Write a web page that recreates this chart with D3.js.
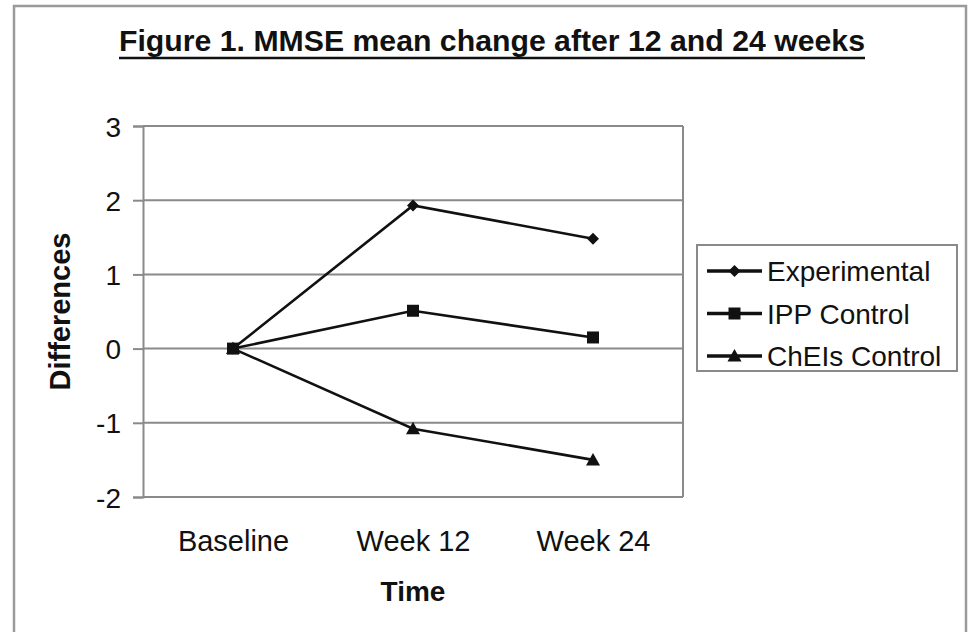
<!DOCTYPE html>
<html>
<head>
<meta charset="utf-8">
<script src="https://cdn.jsdelivr.net/npm/d3@7"></script>
<style>
  html, body { margin: 0; padding: 0; background: #fff; }
  svg { display: block; }
  text { font-family: "Liberation Sans", Arial, sans-serif; fill: #111; }
</style>
</head>
<body>
<svg id="chart" width="970" height="632"></svg>
<script>
// MMSE mean change from baseline, per group
const categories = ["Baseline", "Week 12", "Week 24"];
const experimental = [0, 1.93, 1.48];
const ippControl = [0, 0.51, 0.15];
const cheisControl = [0, -1.08, -1.5];
const seriesNames = ["Experimental", "IPP Control", "ChEIs Control"];
const yTicks = [-2, -1, 0, 1, 2, 3];

const series = [
  { name: seriesNames[0], values: experimental, marker: "diamond" },
  { name: seriesNames[1], values: ippControl, marker: "square" },
  { name: seriesNames[2], values: cheisControl, marker: "triangle" }
];

const svg = d3.select("#chart");
const plot = { left: 143, right: 683, top: 126, bottom: 497 };
const gridColor = "#8a8a8a";

// outer frame
svg.append("rect")
  .attr("x", 14).attr("y", 6)
  .attr("width", 952).attr("height", 650)
  .attr("fill", "none").attr("stroke", "#9a9a9a").attr("stroke-width", 2.5);

// title
svg.append("text")
  .attr("x", 492).attr("y", 51)
  .attr("text-anchor", "middle")
  .attr("font-size", 29).attr("font-weight", "bold")
  .attr("textLength", 746).attr("lengthAdjust", "spacingAndGlyphs")
  .text("Figure 1. MMSE mean change after 12 and 24 weeks");
svg.append("line")
  .attr("x1", 119).attr("x2", 865)
  .attr("y1", 58).attr("y2", 58)
  .attr("stroke", "#111").attr("stroke-width", 2.5);

const x = d3.scalePoint().domain(categories).range([plot.left, plot.right]).padding(0.5);
const y = d3.scaleLinear().domain([-2, 3]).range([plot.bottom, plot.top]);

// horizontal gridlines
svg.append("g").selectAll("line").data(yTicks).join("line")
  .attr("x1", plot.left).attr("x2", plot.right)
  .attr("y1", d => y(d)).attr("y2", d => y(d))
  .attr("stroke", gridColor).attr("stroke-width", 2);

// right border of the plot area
svg.append("line")
  .attr("x1", plot.right).attr("x2", plot.right)
  .attr("y1", plot.top).attr("y2", plot.bottom)
  .attr("stroke", gridColor).attr("stroke-width", 2);

// y axis (plain hyphen for negatives)
const yAxis = svg.append("g")
  .attr("transform", `translate(${plot.left},0)`)
  .call(d3.axisLeft(y).tickValues(yTicks).tickSize(10).tickPadding(12).tickFormat(d => String(d)));
yAxis.select(".domain").attr("stroke", gridColor).attr("stroke-width", 2);
yAxis.selectAll(".tick line").attr("stroke", gridColor).attr("stroke-width", 2);
yAxis.selectAll(".tick text")
  .attr("font-size", 28).attr("font-family", "Liberation Sans, Arial, sans-serif")
  .attr("fill", "#111").attr("dy", "0.36em");

// x axis labels
const xAxis = svg.append("g")
  .attr("transform", `translate(0,${plot.bottom})`)
  .call(d3.axisBottom(x).tickSize(0).tickPadding(54));
xAxis.select(".domain").remove();
xAxis.selectAll(".tick text")
  .attr("font-size", 29).attr("font-family", "Liberation Sans, Arial, sans-serif")
  .attr("fill", "#111").attr("dy", "0");

// axis titles
svg.append("text")
  .attr("x", 413).attr("y", 601)
  .attr("text-anchor", "middle")
  .attr("font-size", 28).attr("font-weight", "bold")
  .text("Time");
svg.append("text")
  .attr("transform", `translate(70,${(plot.top + plot.bottom) / 2}) rotate(-90)`)
  .attr("text-anchor", "middle")
  .attr("font-size", 29).attr("font-weight", "bold")
  .text("Differences");

// marker shapes
function markerPath(type) {
  if (type === "diamond") return "M0,-6L6,0L0,6L-6,0Z";
  if (type === "square") return "M-6,-6H6V6H-6Z";
  return "M0,-7L7,5.5H-7Z";
}

const line = d3.line()
  .x((d, i) => x(categories[i]))
  .y(d => y(d));

series.forEach(s => {
  svg.append("path")
    .attr("d", line(s.values))
    .attr("fill", "none").attr("stroke", "#111").attr("stroke-width", 2.6);
});
// markers drawn after all lines so the baseline square stays on top
[series[0], series[2], series[1]].forEach(s => {
  svg.append("g").selectAll("path").data(s.values).join("path")
    .attr("transform", (d, i) => `translate(${x(categories[i])},${y(d)})`)
    .attr("d", markerPath(s.marker))
    .attr("fill", "#111");
});

// legend
const legend = svg.append("g");
legend.append("rect")
  .attr("x", 697).attr("y", 245).attr("width", 260).attr("height", 126)
  .attr("fill", "#fff").attr("stroke", "#8a8a8a").attr("stroke-width", 2);
series.forEach((s, i) => {
  const cy = 271 + i * 42.5;
  legend.append("line")
    .attr("x1", 707).attr("x2", 762).attr("y1", cy).attr("y2", cy)
    .attr("stroke", "#111").attr("stroke-width", 3.5);
  legend.append("path")
    .attr("transform", `translate(734.5,${cy})`)
    .attr("d", markerPath(s.marker))
    .attr("fill", "#111");
  legend.append("text")
    .attr("x", 767).attr("y", cy).attr("dy", "0.36em")
    .attr("font-size", 28)
    .text(s.name);
});
</script>
</body>
</html>
